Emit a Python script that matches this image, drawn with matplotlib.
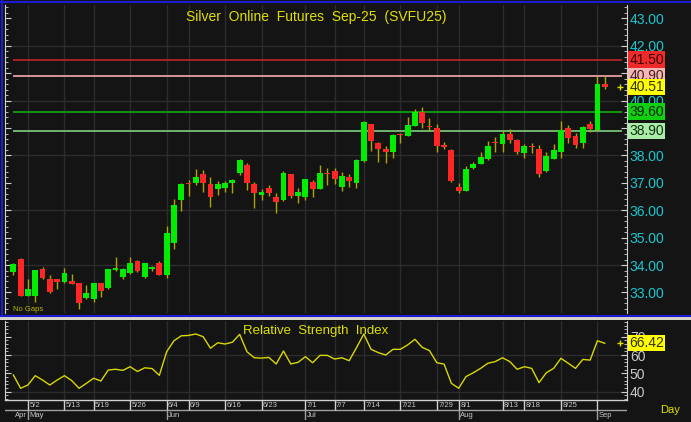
import matplotlib
matplotlib.use('Agg')
import matplotlib.pyplot as plt
import numpy as np
from matplotlib.lines import Line2D
from matplotlib.patches import Rectangle
from matplotlib.ticker import MultipleLocator, FuncFormatter

# daily OHLC, Apr 30 .. Sep 2 (one entry per bar)
opens = [33.75, 34.21, 32.88, 32.88, 33.85, 33.50, 33.48, 33.38, 33.41, 33.34,
         32.79, 32.76, 33.34, 33.15, 33.82, 33.58, 33.70, 34.15, 33.56, 33.85,
         34.07, 33.64, 34.80, 36.38, 37.01, 36.99, 37.31, 36.95, 36.77, 36.80,
         36.99, 37.35, 37.65, 36.95, 36.56, 36.80, 36.47, 36.38, 37.31, 36.52,
         36.50, 37.04, 36.78, 37.37, 37.43, 36.86, 37.20, 36.99, 37.81, 39.14,
         38.47, 38.23, 38.12, 38.77, 38.72, 39.09, 39.58, 39.07, 38.99, 38.38,
         38.20, 36.86, 36.72, 37.55, 37.69, 37.86, 38.50, 38.42, 38.78, 38.57,
         38.08, 38.34, 38.23, 37.43, 37.88, 38.14, 38.99, 38.71, 38.47, 39.15,
         38.93, 40.60]
highs = [34.06, 34.25, 33.48, 33.83, 33.94, 33.64, 33.50, 33.91, 33.66, 33.36,
         33.27, 33.36, 33.36, 33.87, 34.31, 33.88, 34.31, 34.17, 34.09, 33.96,
         34.16, 35.43, 36.40, 36.99, 37.10, 37.50, 37.47, 37.23, 37.08, 37.08,
         37.13, 37.86, 37.72, 37.04, 36.77, 36.92, 36.64, 37.43, 37.33, 36.80,
         37.15, 37.11, 37.65, 37.53, 37.53, 37.41, 37.32, 37.86, 39.27, 39.16,
         38.49, 38.35, 38.77, 38.83, 39.39, 39.69, 39.76, 39.36, 39.15, 38.50,
         38.22, 37.01, 37.62, 37.77, 38.14, 38.53, 38.66, 38.93, 38.96, 38.59,
         38.42, 38.45, 38.38, 38.14, 38.42, 39.26, 39.11, 38.83, 39.07, 39.26,
         40.90, 40.90]
lows = [33.64, 32.88, 32.88, 32.64, 33.50, 32.97, 33.12, 33.36, 33.30, 32.39,
        32.77, 32.66, 32.85, 33.13, 33.80, 33.48, 33.66, 33.76, 33.52, 33.80,
        33.62, 33.52, 34.58, 35.97, 36.52, 36.92, 36.68, 36.13, 36.56, 36.68,
        36.64, 37.29, 36.74, 36.07, 36.38, 36.52, 35.91, 36.34, 36.44, 36.28,
        36.38, 36.50, 36.76, 36.92, 36.96, 36.72, 36.84, 36.80, 37.77, 38.18,
        37.77, 37.74, 37.90, 38.47, 38.70, 39.07, 38.99, 38.90, 38.14, 38.23,
        37.04, 36.62, 36.70, 37.50, 37.67, 37.84, 38.14, 38.14, 38.47, 38.05,
        37.92, 38.08, 37.20, 37.41, 37.86, 37.92, 38.47, 38.26, 38.28, 38.87,
        38.90, 40.43]
closes = [34.04, 32.88, 33.13, 33.81, 33.52, 33.03, 33.39, 33.70, 33.32, 32.63,
          32.97, 33.34, 33.07, 33.85, 33.91, 33.86, 34.09, 33.78, 34.07, 33.94,
          33.64, 35.16, 36.19, 36.95, 36.96, 37.20, 37.01, 36.50, 36.96, 36.99,
          37.11, 37.84, 37.01, 36.62, 36.66, 36.64, 36.29, 37.35, 36.52, 36.67,
          37.13, 36.78, 37.35, 37.33, 37.13, 37.25, 37.08, 37.84, 39.23, 38.53,
          38.23, 38.13, 38.75, 38.73, 39.11, 39.60, 39.18, 39.03, 38.36, 38.32,
          37.08, 36.72, 37.50, 37.69, 37.96, 38.36, 38.46, 38.78, 38.57, 38.12,
          38.35, 38.30, 37.32, 37.99, 38.20, 38.93, 38.65, 38.38, 39.05, 38.96,
          40.61, 40.51]
rsi = [49.1, 41.8, 43.6, 48.7, 46.3, 43.6, 46.3, 48.7, 46.0, 41.8,
       44.5, 47.3, 45.8, 51.8, 52.2, 51.6, 53.6, 51.0, 53.0, 52.6,
       48.9, 61.8, 67.8, 70.5, 70.7, 71.5, 70.0, 63.7, 66.7, 66.0,
       67.0, 71.3, 61.8, 58.5, 58.3, 58.7, 55.1, 62.2, 55.1, 56.0,
       59.1, 55.8, 59.8, 59.8, 57.8, 58.5, 56.9, 64.0, 71.5, 63.1,
       61.3, 60.0, 63.1, 63.1, 65.5, 68.6, 64.2, 62.4, 55.8, 55.0,
       44.5, 41.8, 48.2, 50.3, 52.7, 55.5, 56.4, 58.5, 56.4, 52.2,
       53.6, 52.7, 44.9, 50.3, 52.7, 58.2, 55.5, 52.7, 57.6, 57.2,
       67.8, 66.42]

day_ticks = [2, 7, 11, 16, 21, 24, 29, 34, 40, 44, 48, 53, 58, 61, 67, 70, 75, 80]
day_labels = ['5/2', '5/13', '5/19', '5/26', '6/4', '6/9', '6/16', '6/23', '7/1',
              '7/7', '7/14', '7/21', '7/29', '8/1', '8/13', '8/18', '8/25', '']
month_ticks = [0, 2, 21, 40, 61, 80]
month_labels = ['Apr', 'May', 'Jun', 'Jul', 'Aug', 'Sep']

levels = [41.50, 40.90, 39.60, 38.90]
level_line = ['#b02424', '#e8a0a0', '#10a010', '#78c078']
level_tag = ['#ee2a2a', '#f6b6b6', '#10d010', '#a8eca8']
level_txt = ['#3a0000', '#402020', '#002000', '#103010']

W, H = 691, 422
BG = '#141414'
GRID = '#2c2c2c'
AXC = '#d0d0d0'
YEL = '#e0e000'
plt.rcParams['font.family'] = ['Liberation Sans', 'DejaVu Sans']

fig = plt.figure(figsize=(W / 100, H / 100), dpi=100, facecolor=BG)


def box(x0, y0, x1, y1):
    return [x0 / W, 1 - y1 / H, (x1 - x0) / W, (y1 - y0) / H]


xl = (-1.14, 84.05)
ax = fig.add_axes(box(5, 5, 627, 313), facecolor=BG)
rs = fig.add_axes(box(5, 321, 627, 400), facecolor=BG)
dx = fig.add_axes(box(5, 400, 627, 420), facecolor=BG)

# ---- price panel
o, h, l, c = (np.array(a) for a in (opens, highs, lows, closes))
x = np.arange(len(c))
up = c >= o
body = np.maximum(np.abs(c - o), 0.04)
bot = np.where(np.abs(c - o) < 0.04, (o + c) / 2 - 0.02, np.minimum(o, c))
ax.vlines(x, l, h, color='#b0a400', lw=1, zorder=3)
ax.bar(x[up], body[up], bottom=bot[up], width=0.8, color='#00ec00', lw=0, zorder=4)
ax.bar(x[~up], body[~up], bottom=bot[~up], width=0.8, color='#ff2626', lw=0, zorder=4)

for lv, lc in zip(levels, level_line):
    ax.hlines(lv, 0, 83.4, color=lc, lw=1.3, zorder=2)
for g in [34, 36, 38, 40, 42]:
    ax.axhline(g, color=GRID, lw=1, zorder=1)

ax.set_xlim(xl)
ax.set_ylim(32.25, 43.49)
ax.set_xticks(day_ticks)
ax.tick_params(axis='x', length=0, labelbottom=False)
ax.grid(True, axis='x', color=GRID, lw=1, zorder=1)
ax.yaxis.tick_right()
ax.yaxis.set_major_locator(MultipleLocator(1))
ax.yaxis.set_minor_locator(MultipleLocator(0.2))
# 41.00 sits fully under the level tags
ax.yaxis.set_major_formatter(FuncFormatter(lambda v, p: '' if abs(v - 41) < 0.01 else f'{v:.2f}'))
ax.tick_params(axis='y', which='both', left=True, right=True, labelleft=False,
               labelright=True, direction='in', color=AXC, labelcolor='#18c8d0',
               labelsize=10, pad=2)
ax.tick_params(axis='y', which='major', length=4)
ax.tick_params(axis='y', which='minor', length=2)
for s in ['top', 'bottom']:
    ax.spines[s].set_visible(False)
for s in ['left', 'right']:
    ax.spines[s].set_color(AXC)

tr = ax.get_yaxis_transform()
for lv, fc, tc in zip(levels, level_tag, level_txt):
    ax.text(1.004, lv, f'{lv:.2f}', transform=tr, ha='left', va='center', fontsize=10,
            color=tc, zorder=6, clip_on=False,
            bbox=dict(boxstyle='square,pad=0.08', fc=fc, ec='none'))
ax.text(1.004, closes[-1], f'{closes[-1]:.2f}', transform=tr, ha='left', va='center',
        fontsize=10, color='#303000', zorder=7, clip_on=False,
        bbox=dict(boxstyle='square,pad=0.08', fc='#ffff00', ec='none'))
ax.plot(83.1, closes[-1], marker='+', ms=4, color=YEL, clip_on=False, zorder=6)

ax.text(0.5, 0.985, 'Silver  Online  Futures  Sep-25  (SVFU25)', transform=ax.transAxes,
        ha='center', va='top', fontsize=10, color=YEL)
ax.text(0.013, 0.0, 'No Gaps', transform=ax.transAxes, ha='left', va='bottom',
        fontsize=5.5, color='#b8b800')

# ---- RSI panel
rs.plot(x, rsi, color='#d8d800', lw=1, zorder=3)
rs.set_xlim(xl)
rs.set_ylim(35.4, 78.6)
rs.set_xticks(day_ticks)
rs.tick_params(axis='x', length=0, labelbottom=False)
rs.grid(True, axis='x', color=GRID, lw=1)
for g in [40, 60]:
    rs.axhline(g, color=GRID, lw=1, zorder=1)
rs.yaxis.tick_right()
rs.yaxis.set_major_locator(MultipleLocator(10))
rs.yaxis.set_minor_locator(MultipleLocator(2))
rs.tick_params(axis='y', which='both', left=True, right=True, labelleft=False,
               labelright=True, direction='in', color=AXC, labelcolor='#c8c8c8',
               labelsize=10, pad=2)
rs.tick_params(axis='y', which='major', length=4)
rs.tick_params(axis='y', which='minor', length=2)
for s in ['top', 'bottom']:
    rs.spines[s].set_visible(False)
for s in ['left', 'right']:
    rs.spines[s].set_color(AXC)
rs.text(0.5, 0.95, 'Relative  Strength  Index', transform=rs.transAxes, ha='center',
        va='top', fontsize=9.5, color=YEL)
rs.text(1.004, rsi[-1], f'{rsi[-1]:.2f}', transform=rs.get_yaxis_transform(), ha='left',
        va='center', fontsize=10, color='#303000', zorder=7, clip_on=False,
        bbox=dict(boxstyle='square,pad=0.08', fc='#ffff00', ec='none'))
rs.plot(83.1, rsi[-1], marker='+', ms=4, color=YEL, clip_on=False, zorder=6)

# ---- date rows
dx.set_xlim(xl)
dx.set_ylim(0, 2)
dx.axis('off')
dx.axhline(1.97, color=AXC, lw=1, clip_on=False)
dx.axhline(1.0, color='#a0a0a0', lw=1)
dx.vlines(day_ticks, 1, 2, color=AXC, lw=1)
for t, lb in zip(day_ticks, day_labels):
    dx.text(t + 0.2, 1.45, lb, ha='left', va='center', fontsize=5.5, color='#c8c8c8')
dx.vlines(month_ticks[1:], 0, 1, color='#a0a0a0', lw=1)
for t, lb in zip(month_ticks, month_labels):
    dx.text(t + 0.2, 0.45, lb, ha='left', va='center', fontsize=5.5, color='#c8c8c8')
fig.text(670 / W, 1 - 410 / H, 'Day', ha='center', va='center', fontsize=8, color=YEL)

# ---- window frame
BLUE = '#1c1cd0'
fig.add_artist(Line2D([0, 1], [1 - 1.5 / H] * 2, color=BLUE, lw=1.5))
fig.add_artist(Line2D([1.5 / W] * 2, [1 - 316 / H, 1], color=BLUE, lw=1.5))
fig.add_artist(Line2D([0, 1], [1 - 316 / H] * 2, color=BLUE, lw=1.5))
fig.add_artist(Rectangle((0, 1 - 320 / H), 1, 3 / H, color='#d8d4cc', lw=0))

fig.savefig('out.png', dpi=100, facecolor=BG)
